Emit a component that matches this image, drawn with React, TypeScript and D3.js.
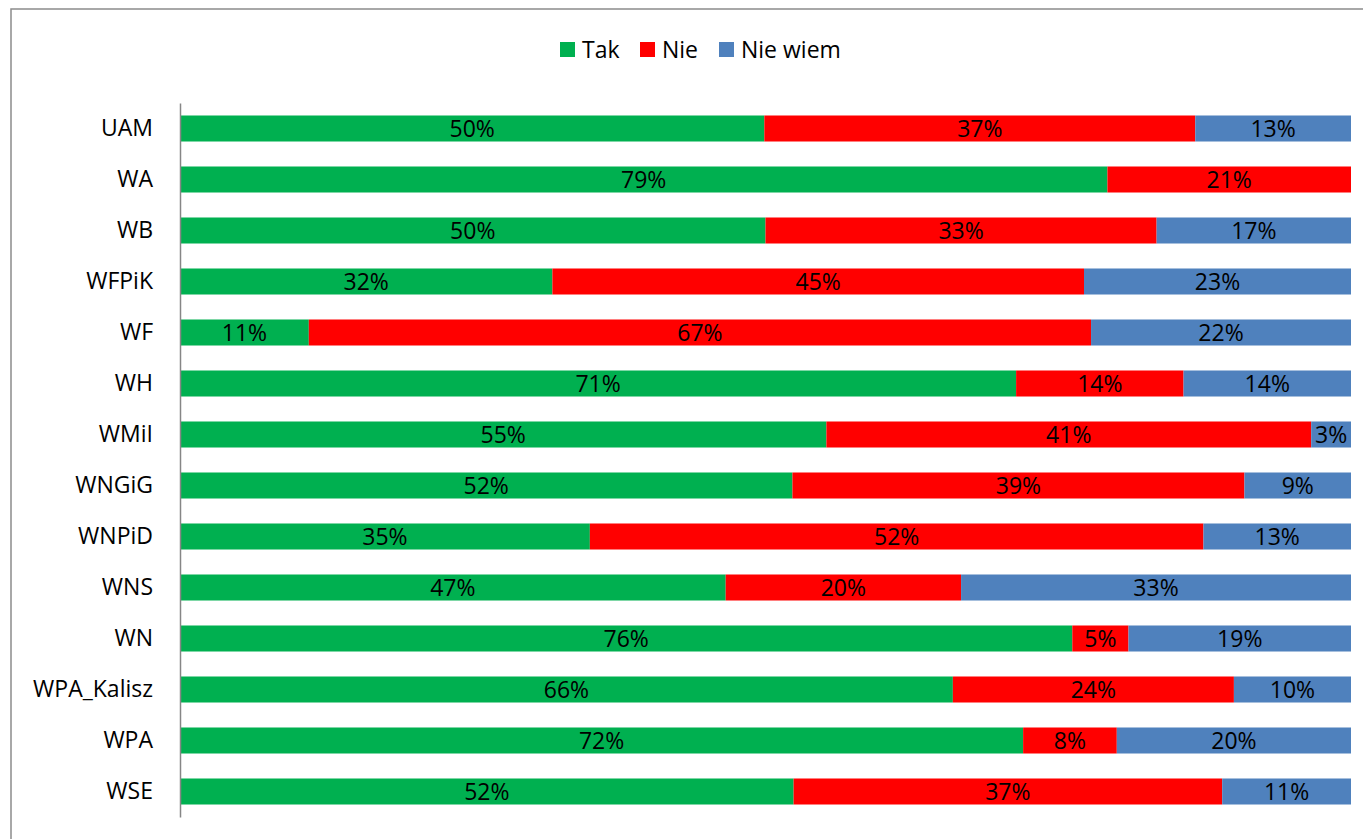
import * as React from 'react'
import * as d3 from 'd3'

const width = 1363
const height = 839
const margin = { top: 103, right: 12, bottom: 22, left: 180 }
const font = "'Open Sans', sans-serif"
const fontSize = 23

const categories = ['UAM', 'WA', 'WB', 'WFPiK', 'WF', 'WH', 'WMiI', 'WNGiG', 'WNPiD', 'WNS', 'WN', 'WPA_Kalisz', 'WPA', 'WSE']
const keys = ['Tak', 'Nie', 'Nie wiem']
const colors = ['#00b050', '#ff0000', '#4f81bd']

const tak = [49.9, 79.2, 50.0, 31.8, 11.0, 71.4, 55.2, 52.3, 35.0, 46.6, 76.2, 66.0, 72.0, 52.4]
const nie = [36.8, 20.8, 33.4, 45.4, 66.8, 14.3, 41.4, 38.6, 52.4, 20.1, 4.8, 24.0, 8.0, 36.6]
const nieWiem = [13.3, 0, 16.6, 22.8, 22.2, 14.3, 3.4, 9.1, 12.6, 33.3, 19.0, 10.0, 20.0, 11.0]

const rows = categories.map((c, i) => ({ name: c, Tak: tak[i], Nie: nie[i], 'Nie wiem': nieWiem[i] }))

const App = () => {
  const xScale = d3.scaleLinear().domain([0, 100]).range([margin.left, width - margin.right])
  const yScale = d3
    .scaleBand()
    .domain(categories)
    .range([margin.top, height - margin.bottom])
    .paddingInner(0.49)
    .paddingOuter(0.245)

  const series = d3.stack().keys(keys)(rows as any)

  const yRef = React.useRef(null)
  React.useEffect(() => {
    const g = d3.select(yRef.current)
    g.call(d3.axisLeft(yScale).tickSize(0).tickPadding(27) as any)
    g.select('.domain').attr('stroke', '#868686').attr('stroke-width', 1.5)
    g.selectAll('text').attr('font-family', font).attr('font-size', fontSize).attr('fill', '#000')
  }, [yRef.current])

  const legendX = [560, 640, 719]

  return (
    <svg width={width} height={height} style={{ position: 'absolute', left: 0, top: 0, display: 'block' }}>
      <rect x={0} y={0} width={width} height={height} fill="#fff" />
      <rect x={11} y={9} width={width} height={height} fill="none" stroke="#8c8c8c" strokeWidth={1.5} />
      {keys.map((k, i) => (
        <g key={k} transform={`translate(${legendX[i]}, 42)`}>
          <rect width={15} height={15} fill={colors[i]} />
          <text x={22} y={7.5} dy="0.35em" fontFamily={font} fontSize={fontSize}>{k}</text>
        </g>
      ))}
      {series.map((s, i) => (
        <g key={s.key} fill={colors[i]}>
          {s.map((d: any) => (
            <rect
              key={d.data.name}
              x={xScale(d[0])}
              y={yScale(d.data.name)}
              width={xScale(d[1]) - xScale(d[0])}
              height={yScale.bandwidth()}
            />
          ))}
        </g>
      ))}
      {series.map(s => (
        <g key={s.key + '-lbl'}>
          {s
            .filter((d: any) => d[1] - d[0] > 0)
            .map((d: any) => (
              <text
                key={d.data.name}
                x={(xScale(d[0]) + xScale(d[1])) / 2}
                y={yScale(d.data.name) + yScale.bandwidth() / 2}
                dy="0.35em"
                textAnchor="middle"
                fontFamily={font}
                fontSize={fontSize}
                fill="#000"
              >
                {Math.round(d[1] - d[0]) + '%'}
              </text>
            ))}
        </g>
      ))}
      <g ref={yRef} transform={`translate(${margin.left}, 0)`} />
    </svg>
  )
}

export default App
